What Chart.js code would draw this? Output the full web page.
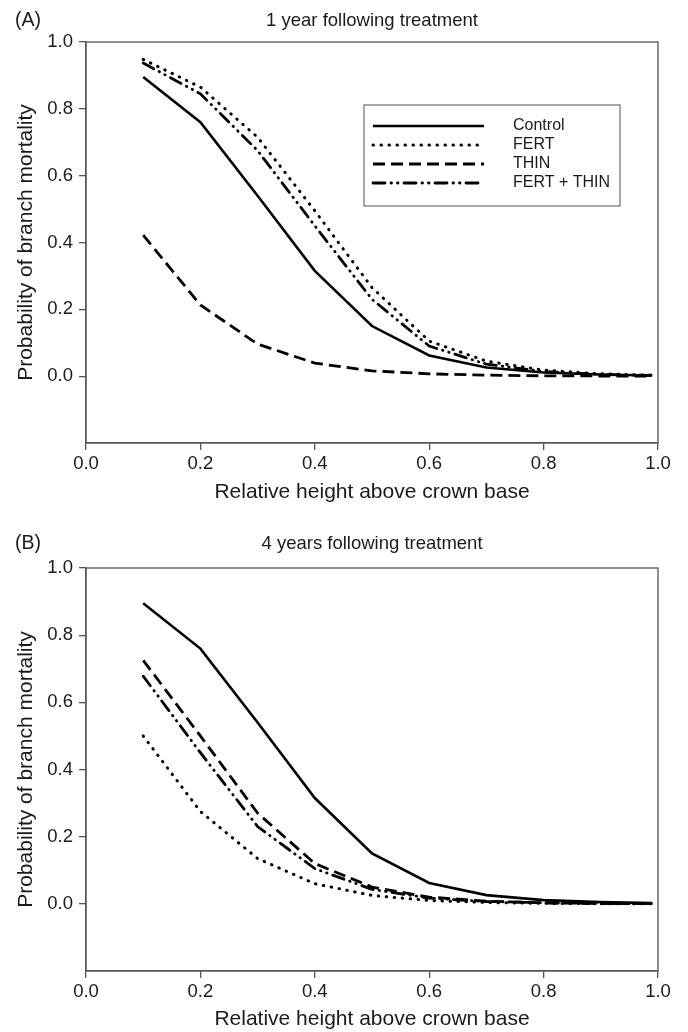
<!DOCTYPE html>
<html>
<head>
<meta charset="utf-8">
<title>Probability of branch mortality</title>
<script src="https://cdn.jsdelivr.net/npm/chart.js@4.4.1/dist/chart.umd.min.js"></script>
<style>
  body { margin: 0; background: #fff; }
  canvas { display: block; }
</style>
</head>
<body>
<canvas id="chartA" width="688" height="516"></canvas>
<canvas id="chartB" width="688" height="516"></canvas>
<script>
// relative height above crown base
const heights = [0.1, 0.2, 0.3, 0.4, 0.5, 0.6, 0.7, 0.8, 0.9, 0.99];
const treatments = ['Control', 'FERT', 'THIN', 'FERT + THIN'];

// (A) 1 year following treatment
const control1 = [0.895, 0.76, 0.54, 0.315, 0.15, 0.062, 0.026, 0.011, 0.005, 0.002];
const fert1 = [0.948, 0.865, 0.715, 0.495, 0.265, 0.105, 0.045, 0.018, 0.007, 0.003];
const thin1 = [0.422, 0.213, 0.096, 0.039, 0.016, 0.007, 0.003, 0.001, 0.0005, 0.0002];
const fertThin1 = [0.937, 0.845, 0.675, 0.45, 0.23, 0.09, 0.036, 0.014, 0.005, 0.002];

// (B) 4 years following treatment
const control4 = [0.895, 0.76, 0.54, 0.315, 0.15, 0.062, 0.026, 0.011, 0.005, 0.002];
const fert4 = [0.50, 0.275, 0.135, 0.06, 0.025, 0.01, 0.004, 0.0015, 0.0005, 0.0002];
const thin4 = [0.725, 0.50, 0.27, 0.12, 0.05, 0.02, 0.008, 0.003, 0.001, 0.0004];
const fertThin4 = [0.678, 0.45, 0.23, 0.105, 0.043, 0.017, 0.007, 0.003, 0.001, 0.0004];

const xTicks = [0, 0.2, 0.4, 0.6, 0.8, 1.0];
const yTicks = [0, 0.2, 0.4, 0.6, 0.8, 1.0];

const axisColor = '#555';
const textColor = '#1a1a1a';
Chart.defaults.font.family = '"Liberation Sans", Arial, sans-serif';
Chart.defaults.color = textColor;

const lineStyles = [
  { dash: [], width: 2.6, cap: 'butt' },
  { dash: [0.5, 7.5], width: 3, cap: 'round' },
  { dash: [12, 6], width: 2.8, cap: 'butt' },
  { dash: [12, 6, 0.5, 6, 0.5, 6], width: 2.8, cap: 'round' }
];

function makeDatasets(series) {
  return series.map((vals, i) => ({
    label: treatments[i],
    data: heights.map((h, j) => ({ x: h, y: vals[j] })),
    borderColor: '#000',
    borderWidth: lineStyles[i].width,
    borderDash: lineStyles[i].dash,
    borderCapStyle: lineStyles[i].cap,
    pointRadius: 0,
    tension: 0,
    fill: false
  }));
}

// box around the plot area
const framePlugin = {
  id: 'frame',
  beforeDatasetsDraw(chart) {
    const { ctx, chartArea: a } = chart;
    ctx.save();
    ctx.strokeStyle = axisColor;
    ctx.lineWidth = 1.3;
    ctx.strokeRect(a.left, a.top, a.right - a.left, a.bottom - a.top);
    ctx.restore();
  }
};

// "(A)" / "(B)"
const panelLabelPlugin = {
  id: 'panelLabel',
  afterDraw(chart, args, opts) {
    const ctx = chart.ctx;
    ctx.save();
    ctx.font = '19.5px "Liberation Sans", Arial, sans-serif';
    ctx.fillStyle = textColor;
    ctx.textBaseline = 'middle';
    ctx.fillText(opts.text, opts.x, opts.y);
    ctx.restore();
  }
};

// legend drawn inside the plot, with a border
const boxLegendPlugin = {
  id: 'boxLegend',
  afterDatasetsDraw(chart, args, opts) {
    if (!opts.show) return;
    const ctx = chart.ctx;
    ctx.save();
    ctx.fillStyle = '#fff';
    ctx.fillRect(opts.left, opts.top, opts.width, opts.height);
    ctx.strokeStyle = axisColor;
    ctx.lineWidth = 1;
    ctx.strokeRect(opts.left, opts.top, opts.width, opts.height);
    ctx.font = '16px "Liberation Sans", Arial, sans-serif';
    ctx.textBaseline = 'middle';
    chart.data.datasets.forEach((ds, i) => {
      const y = opts.firstRow + i * opts.rowGap;
      ctx.beginPath();
      ctx.strokeStyle = '#000';
      ctx.lineWidth = ds.borderWidth;
      ctx.lineCap = ds.borderCapStyle;
      ctx.setLineDash(ds.borderDash);
      ctx.moveTo(opts.lineStart, y);
      ctx.lineTo(opts.lineEnd, y);
      ctx.stroke();
      ctx.setLineDash([]);
      ctx.fillStyle = textColor;
      ctx.fillText(ds.label, opts.textX, y);
    });
    ctx.restore();
  }
};

function makeChart(id, title, letter, series, p) {
  return new Chart(document.getElementById(id), {
    type: 'line',
    data: { datasets: makeDatasets(series) },
    plugins: [framePlugin, panelLabelPlugin, boxLegendPlugin],
    options: {
      responsive: false,
      animation: false,
      layout: { padding: { left: 0, right: 30, top: 0, bottom: 0 } },
      scales: {
        x: {
          type: 'linear',
          min: 0,
          max: 1,
          afterBuildTicks: s => { s.ticks = xTicks.map(v => ({ value: v })); },
          afterFit: s => { s.height = p.xHeight; },
          ticks: { callback: v => v.toFixed(1), padding: 3, font: { size: 18.5 }, color: textColor },
          grid: { drawOnChartArea: false, tickLength: 7, color: axisColor, lineWidth: 1.3 },
          border: { color: axisColor, width: 1.3 },
          title: {
            display: true,
            text: 'Relative height above crown base',
            font: { size: 21 },
            color: textColor,
            padding: { top: 0, bottom: p.xTitleBottom }
          }
        },
        y: {
          min: -0.2,
          max: 1.0,
          afterBuildTicks: s => { s.ticks = yTicks.map(v => ({ value: v })); },
          afterFit: s => { s.width = 86; },
          ticks: { callback: v => v.toFixed(1), padding: 6, font: { size: 18.5 }, color: textColor },
          grid: { drawOnChartArea: false, tickLength: 7, color: axisColor, lineWidth: 1.3 },
          border: { color: axisColor, width: 1.3 },
          title: {
            display: true,
            text: 'Probability of branch mortality',
            font: { size: 21 },
            color: textColor,
            padding: { top: 14, bottom: 0 }
          }
        }
      },
      plugins: {
        legend: { display: false },
        tooltip: { enabled: false },
        title: {
          display: true,
          text: title,
          fullSize: false,
          font: { size: 18.5, weight: 'normal' },
          color: textColor,
          padding: { top: p.titleTop, bottom: p.titleBottom }
        },
        panelLabel: { text: letter, x: 15, y: p.letterY },
        boxLegend: {
          show: p.legend,
          left: 364, top: 105, width: 256, height: 101,
          firstRow: 126, rowGap: 19,
          lineStart: 373, lineEnd: 484, textX: 513
        }
      }
    }
  });
}

makeChart('chartA', '1 year following treatment', '(A)',
  [control1, fert1, thin1, fertThin1],
  { titleTop: 9.9, titleBottom: 9.9, letterY: 21, xHeight: 73, xTitleBottom: 11, legend: true });

makeChart('chartB', '4 years following treatment', '(B)',
  [control4, fert4, thin4, fertThin4],
  { titleTop: 17, titleBottom: 12.8, letterY: 28, xHeight: 61, xTitleBottom: 0, legend: false });
</script>
</body>
</html>
